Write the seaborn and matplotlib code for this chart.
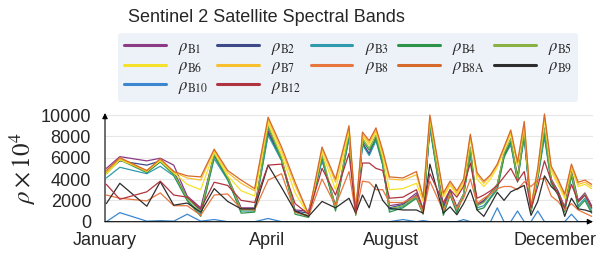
import pandas as pd
import matplotlib
matplotlib.use('Agg')
import matplotlib.pyplot as plt
import seaborn as sns
from matplotlib.lines import Line2D

# day of year of each acquisition
days = [1, 11, 31, 41, 51, 61, 71, 81, 91, 101,
        111, 121, 131, 141, 151, 161, 171, 181, 186, 191,
        196, 201, 206, 211, 221, 231, 236, 241, 251, 256,
        261, 266, 271, 276, 281, 286, 291, 296, 301, 306,
        311, 316, 321, 326, 331, 336, 341, 346, 351, 356,
        361]

b1 = [5000, 6100, 5700, 5950, 5300, 2400, 1300, 6300, 4200, 1300,
      1300, 8500, 5900, 1100, 1000, 5900, 1500, 8000, 900, 7400,
      6400, 7900, 5500, 1500, 1700, 2700, 1000, 9000, 1500, 3000,
      1400, 2600, 6800, 1600, 2000, 2700, 3500, 6300, 7500, 4300,
      8200, 1200, 4400, 8400, 4000, 2900, 1400, 4800, 2000, 2700,
      1500]
b2 = [4700, 5700, 5300, 5700, 4700, 2200, 1100, 6200, 4000, 1200,
      1200, 8300, 5800, 1000, 800, 5800, 1400, 7900, 800, 7300,
      6300, 7800, 5400, 1300, 1600, 2500, 900, 8900, 1300, 2800,
      1200, 2500, 6600, 1500, 1900, 2600, 3400, 6200, 7400, 4100,
      8100, 1100, 4200, 8200, 3900, 2800, 1200, 4500, 1800, 2500,
      1300]
b3 = [4100, 5100, 4500, 5200, 4300, 2000, 700, 5900, 3900, 1000,
      1000, 8100, 5700, 900, 500, 5800, 1200, 7800, 700, 7200,
      6200, 7600, 5300, 1100, 1400, 2300, 800, 8800, 800, 2600,
      1000, 2500, 6300, 1300, 1500, 2300, 3200, 6100, 7200, 3900,
      7900, 1000, 4000, 7900, 3700, 2600, 1000, 4300, 1500, 2200,
      1000]
b4 = [4500, 5800, 4600, 5600, 4400, 2000, 500, 6200, 4000, 800,
      900, 8800, 5800, 700, 400, 6100, 1000, 8200, 600, 7600,
      6700, 7800, 5500, 900, 1300, 2200, 700, 9200, 600, 2500,
      800, 2600, 6500, 1100, 1300, 2200, 3000, 6000, 7500, 3700,
      8300, 900, 4200, 8300, 3600, 2500, 900, 4400, 1300, 2000,
      800]
b5 = [4600, 5900, 4700, 5800, 4500, 2200, 900, 6400, 4200, 1100,
      1100, 9000, 6000, 900, 600, 6300, 1300, 8400, 700, 7800,
      6900, 8100, 5800, 1200, 1500, 2400, 1000, 9400, 1000, 2700,
      1200, 2600, 7000, 1500, 1800, 2600, 3500, 6400, 7800, 4000,
      8600, 1100, 4300, 8800, 3900, 2700, 1300, 4600, 1800, 2600,
      1200]
b6 = [4500, 5800, 4800, 5700, 4600, 3500, 3000, 6500, 4300, 2900,
      2400, 9300, 6300, 2700, 600, 6500, 3000, 8500, 800, 8000,
      7200, 8400, 6100, 3000, 3100, 3600, 1900, 9600, 2300, 3400,
      2500, 3500, 7800, 4000, 3300, 4000, 5100, 6700, 8200, 5200,
      9000, 1200, 4600, 9600, 4700, 3500, 2200, 5000, 3300, 3500,
      3100]
b7 = [4700, 5950, 4700, 5850, 4650, 4100, 3900, 6700, 4600, 3600,
      2900, 9600, 6700, 3400, 650, 6800, 3700, 8800, 800, 8200,
      7400, 8600, 6400, 4000, 3900, 4400, 2100, 9800, 2500, 3600,
      2700, 3800, 8000, 4400, 3600, 4300, 5300, 6900, 8400, 5400,
      9200, 1300, 4800, 9900, 5000, 3800, 2400, 5200, 3500, 3700,
      3300]
b8 = [2500, 2200, 1950, 2700, 1500, 1500, 600, 2500, 2600, 1200,
      1100, 3900, 4500, 900, 500, 4000, 1500, 4700, 700, 3800,
      3700, 3000, 3000, 1800, 1800, 2400, 800, 3800, 1000, 2600,
      1200, 2200, 4000, 1700, 2200, 2600, 3100, 3300, 3300, 3000,
      3750, 3300, 3900, 4100, 2400, 1900, 1100, 1700, 1100, 800,
      500]
b8a = [4800, 6000, 4800, 5900, 4700, 4300, 4200, 6800, 4800, 3900,
       3100, 9800, 7000, 3700, 700, 7000, 4000, 9000, 900, 8400,
       7600, 8800, 6700, 4200, 4100, 4700, 2300, 10000, 2700, 3800,
       2900, 4000, 8200, 4600, 3800, 4400, 5400, 7000, 8600, 5600,
       9400, 1400, 5000, 10100, 5200, 4000, 2600, 5400, 3700, 3900,
       3500]
b9 = [1700, 3600, 1450, 3750, 1550, 1750, 900, 3100, 1900, 1200,
      1200, 5300, 3200, 1000, 500, 1900, 1300, 2200, 800, 2500,
      1300, 3500, 2000, 1250, 1100, 1100, 800, 5400, 800, 1400,
      650, 1700, 3000, 1100, 500, 1600, 2750, 2000, 2800, 3100,
      3400, 600, 1900, 4300, 3300, 2700, 500, 2200, 1200, 1100,
      900]
b10 = [0, 850, 50, 100, 50, 700, 50, 200, 0, 0,
       0, 300, 0, 0, 0, 0, 0, 0, 0, 0,
       0, 0, 0, 0, 200, 0, 100, 0, 0, 0,
       0, 200, 0, 0, 0, 0, 1300, 0, 0, 1000,
       0, 0, 1000, 0, 0, 0, 0, 700, 0, 0,
       0]
b12 = [3500, 2100, 2800, 3800, 2500, 2300, 1200, 3700, 3400, 2000,
       1800, 5300, 5400, 1700, 700, 5000, 2500, 6400, 800, 5500,
       5500, 5000, 4800, 2200, 2300, 3000, 1200, 4500, 1800, 3000,
       2300, 3300, 5500, 2200, 2500, 2900, 3400, 4200, 5000, 3800,
       4700, 1250, 3300, 5700, 3800, 2600, 1300, 3500, 1900, 2500,
       1300]

bands = ['B1', 'B2', 'B3', 'B4', 'B5', 'B6', 'B7', 'B8', 'B8A', 'B9', 'B10', 'B12']
series = [b1, b2, b3, b4, b5, b6, b7, b8, b8a, b9, b10, b12]
colors = ['#8c3a86', '#3d4a8a', '#2f9aad', '#2b9448', '#88b244', '#f5e12a',
          '#f8c030', '#e8763e', '#d6692c', '#2d2d2d', '#3b87cf', '#b0343f']
palette = dict(zip(bands, colors))

rows = []
for band, vals in zip(bands, series):
    for d, v in zip(days, vals):
        rows.append({'day': d, 'value': v, 'band': band})
df = pd.DataFrame(rows)

sns.set_style('white')
plt.rcParams['font.family'] = ['Liberation Sans', 'DejaVu Sans']
plt.rcParams['mathtext.fontset'] = 'stix'

fig = plt.figure(figsize=(6, 2.58), dpi=100)
ax = fig.add_axes([105 / 600, 1 - 221.7 / 258, 488 / 600, 108.7 / 258])

sns.lineplot(data=df, x='day', y='value', hue='band', hue_order=bands,
             palette=palette, linewidth=0.9, legend=False, ax=ax)

ax.set_xlim(0, 362)
ax.set_ylim(0, 10190)
ax.set_yticks([0, 2000, 4000, 6000, 8000, 10000])
ax.set_xticks([0, 120, 212, 334])
ax.set_xticklabels(['January', 'April', 'August', 'December'])
ax.yaxis.grid(True, color='#e6e6e6', linewidth=0.8)
ax.set_axisbelow(True)
for s in ax.spines.values():
    s.set_visible(False)
ax.tick_params(axis='y', length=0, pad=10, labelsize=13)
ax.tick_params(axis='x', direction='inout', length=7, width=0.8,
               color='#999999', pad=4, labelsize=13)
ax.set_xlabel('')
ax.set_ylabel(r'$\rho \times 10^4$', fontsize=18)
ax.yaxis.set_label_coords(-0.138, 0.49)

arrow = dict(arrowstyle='-|>', color='black', lw=0.8, mutation_scale=8,
             shrinkA=0, shrinkB=0)
ax.annotate('', xy=(1.0, 0), xytext=(0, 0), xycoords='axes fraction',
            arrowprops=arrow, zorder=5)
ax.annotate('', xy=(0, 1.0), xytext=(0, 0), xycoords='axes fraction',
            arrowprops=arrow, zorder=5)

# matplotlib fills legend column by column; reorder so it reads row by row
leg_order = ['B1', 'B6', 'B10', 'B2', 'B7', 'B12', 'B3', 'B8', 'B4', 'B8A', 'B5', 'B9']
handles = [Line2D([0], [0], color=palette[b], lw=2.2) for b in leg_order]
labels = [r'$\rho_{\mathrm{%s}}$' % b for b in leg_order]
leg = fig.legend(handles, labels, ncol=5, loc='upper left',
                 bbox_to_anchor=(118 / 600, 1 - 33 / 258),
                 frameon=True, fancybox=True, facecolor='#edf2f8',
                 edgecolor='none', framealpha=1, fontsize=12,
                 handlelength=2.5, handletextpad=0.75, columnspacing=0.55,
                 labelspacing=0.1, borderpad=0.35, borderaxespad=0)

fig.text(128 / 600, 1 - 18 / 258, 'Sentinel 2 Satellite Spectral Bands',
         fontsize=13, va='center', ha='left')

fig.savefig('out.png', dpi=100)
